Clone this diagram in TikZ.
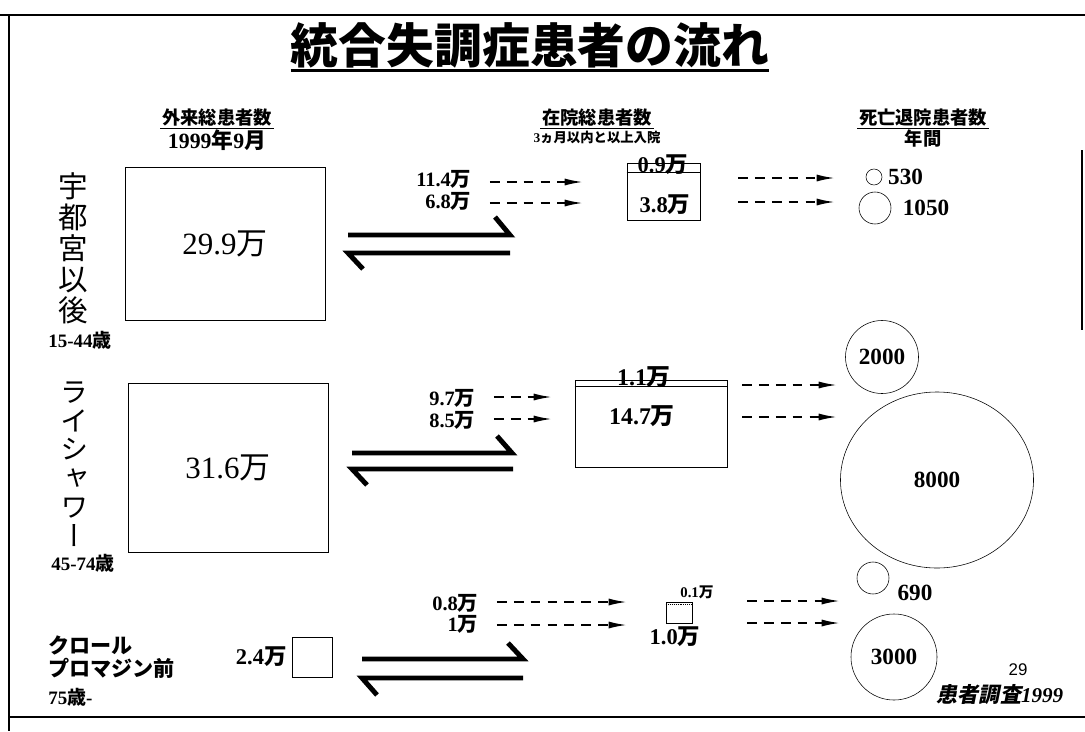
\documentclass[tikz,border=0pt]{standalone}
\usepackage{fontspec}
\setmainfont{Liberation Serif}
\newfontfamily\jp{Noto Sans CJK JP}
\newfontfamily\jpv[RawFeature=+vert]{Noto Sans CJK JP}
\newfontfamily\jpit[FakeSlant=0.2]{Noto Sans CJK JP}
\newfontfamily\pagenum{Liberation Sans}
\usetikzlibrary{shapes.geometric,arrows.meta,positioning}
\newcommand{\tenk}{{\jp 万}}

\tikzset{
	frame/.style={line width=1.5pt},
	hdr/.style={font=\jp\bfseries\fontsize{13}{14}\selectfont, inner sep=1pt},
	sub/.style={font=\bfseries\fontsize{15.5}{16}\selectfont, inner sep=1pt},
	uline/.style={line width=1.3pt},
	vlabel/.style={font=\jp\fontsize{21}{22}\selectfont, align=center, inner sep=0pt},
	age/.style={font=\bfseries\fontsize{13.5}{14}\selectfont, inner sep=1pt},
	outbox/.style={draw, thin, inner sep=0pt, font=\fontsize{22}{24}\selectfont},
	inbox/.style={draw, thin, inner sep=0pt},
	num/.style={font=\bfseries\fontsize{14.5}{15}\selectfont, inner sep=1pt},
	flow/.style={line width=1.3pt, dash pattern=on 7pt off 5pt, -{Latex[length=13pt,width=5pt]}},
	eq/.style={line width=3.5pt, line join=miter},
	pop/.style={draw, thin, inner sep=0pt, font=\bfseries\fontsize{16.5}{17}\selectfont},
	popnum/.style={font=\bfseries\fontsize{16.5}{17}\selectfont, inner sep=0pt},
}

\begin{document}
\begin{tikzpicture}[x=0.025cm, y=-0.025cm]
	\useasboundingbox (0,0) rectangle (1085,731);

%marco
	\draw[frame] (0,15) -- (1085,15);
	\draw[frame] (9,15) -- (9,731);
	\draw[frame] (9,717) -- (1085,717);
	\draw[frame] (1082,150) -- (1082,330);

%titulo
	\node[font=\jp\bfseries\fontsize{34}{36}\selectfont, inner sep=0pt] (title) at (530,45) {統合失調症患者の流れ};
	\draw[line width=2pt] ([yshift=-2pt]title.south west) -- ([yshift=-2pt]title.south east);

%columnas
	\node[hdr] (hdr-out) at (217,118) {外来総患者数};
	\draw[uline] (hdr-out.south west) -- (hdr-out.south east);
	\node[sub, below=0pt of hdr-out] (sub-out) {1999{\jp 年}9{\jp 月}};
	\node[hdr] (hdr-in) at (597,118) {在院総患者数};
	\draw[uline] (hdr-in.south west) -- (hdr-in.south east);
	\node[sub, font=\jp\bfseries\fontsize{9.5}{10}\selectfont, below=1pt of hdr-in] (sub-in) {{\rmfamily 3}ヵ月以内と以上入院};
	\node[hdr] (hdr-exit) at (923,118) {死亡退院患者数};
	\draw[uline] (hdr-exit.south west) -- (hdr-exit.south east);
	\node[sub, font=\jp\bfseries\fontsize{13}{14}\selectfont, below=0pt of hdr-exit] (sub-exit) {年間};

%宇都宮以後
	\node[vlabel] (u-name) at (73,248) {宇\\都\\宮\\以\\後};
	\node[age] (u-age) at (80,340) {15-44{\jp 歳}};
	\node[outbox, minimum width=5cm, minimum height=3.825cm] (u-out) at (225,243.5) {29.9\tenk};
	%
	\coordinate (u-eqa) at (348,235); \coordinate (u-eqb) at (510,235);
	\draw[eq] (u-eqa) -- (u-eqb) -- ++(-15,-18);
	\coordinate (u-eqc) at (510,253); \coordinate (u-eqd) at (348,253);
	\draw[eq] (u-eqc) -- (u-eqd) -- ++(15,16);
	%
	\node[num, anchor=east] (u-in1) at (473,179) {11.4\tenk};
	\node[num, anchor=east] (u-in2) at (473,201) {6.8\tenk};
	\coordinate (u-in1-tip) at (583,182); \coordinate (u-in2-tip) at (583,203);
	\draw[flow, shorten <=12pt] (u-in1.east |- u-in1-tip) -- (u-in1-tip);
	\draw[flow, shorten <=12pt] (u-in2.east |- u-in2-tip) -- (u-in2-tip);
	%
	\node[inbox, minimum width=1.825cm, minimum height=1.425cm] (u-mid) at (663.5,191.5) {};
	\draw[thin] ([yshift=-7pt]u-mid.north west) -- ([yshift=-7pt]u-mid.north east);
	\node[num, font=\bfseries\fontsize{16}{17}\selectfont] (u-mid-top) at (663,165) {0.9\tenk};
	\node[num, font=\bfseries\fontsize{16}{17}\selectfont] (u-mid-low) at (665,205) {3.8\tenk};
	%
	\coordinate (u-out1-tail) at (738,178); \coordinate (u-out1-tip) at (835,178);
	\coordinate (u-out2-tail) at (738,202); \coordinate (u-out2-tip) at (835,202);
	\draw[flow] (u-out1-tail) -- (u-out1-tip);
	\draw[flow] (u-out2-tail) -- (u-out2-tip);
	\node[pop, circle, minimum size=0.4cm] (u-d1) at (874,177) {};
	\node[popnum, right=4pt of u-d1] (u-d1-num) {530};
	\node[pop, circle, minimum size=0.8cm] (u-d2) at (875,208) {};
	\node[popnum, right=8pt of u-d2] (u-d2-num) {1050};

%ライシャワー
	\node[vlabel, font=\jpv\fontsize{20}{20.5}\selectfont] (r-name) at (75,464) {ラ\\イ\\シ\\ャ\\ワ\\ー};
	\node[age] (r-age) at (83,563) {45-74{\jp 歳}};
	\node[outbox, minimum width=5cm, minimum height=4.225cm] (r-out) at (228,467.5) {31.6\tenk};
	%
	\coordinate (r-eqa) at (352,453); \coordinate (r-eqb) at (512,453);
	\draw[eq] (r-eqa) -- (r-eqb) -- ++(-15,-17);
	\coordinate (r-eqc) at (513,469); \coordinate (r-eqd) at (352,469);
	\draw[eq] (r-eqc) -- (r-eqd) -- ++(15,16);
	%
	\node[num, anchor=east] (r-in1) at (477,398) {9.7\tenk};
	\node[num, anchor=east] (r-in2) at (477,420) {8.5\tenk};
	\coordinate (r-in1-tip) at (552,397); \coordinate (r-in2-tip) at (552,419);
	\draw[flow, shorten <=12pt] (r-in1.east |- r-in1-tip) -- (r-in1-tip);
	\draw[flow, shorten <=12pt] (r-in2.east |- r-in2-tip) -- (r-in2-tip);
	%
	\node[inbox, minimum width=3.8cm, minimum height=2.175cm] (r-mid) at (651,423.5) {};
	\draw[thin] ([yshift=-5pt]r-mid.north west) -- ([yshift=-5pt]r-mid.north east);
	\node[num, font=\bfseries\fontsize{17}{18}\selectfont] (r-mid-top) at (644,377) {1.1\tenk};
	\node[num, font=\bfseries\fontsize{17}{18}\selectfont] (r-mid-low) at (642,416) {14.7\tenk};
	%
	\coordinate (r-out1-tail) at (742,385); \coordinate (r-out1-tip) at (837,385);
	\coordinate (r-out2-tail) at (742,417); \coordinate (r-out2-tip) at (837,417);
	\draw[flow] (r-out1-tail) -- (r-out1-tip);
	\draw[flow] (r-out2-tail) -- (r-out2-tip);
	\node[pop, circle, minimum size=1.825cm] (r-d1) at (882,357) {2000};
	\node[pop, ellipse, minimum width=4.825cm, minimum height=4.4cm] (r-d2) at (937,480) {8000};

%クロールプロマジン前
	\node[font=\jp\bfseries\fontsize{15}{16}\selectfont, anchor=west, inner sep=0pt] (k-name1) at (48,645) {クロール};
	\node[font=\jp\bfseries\fontsize{15}{16}\selectfont, anchor=west, inner sep=0pt] (k-name2) at (48,668) {プロマジン前};
	\node[age, anchor=west, inner sep=0pt] (k-age) at (48,697) {75{\jp 歳}-};
	\node[outbox, minimum width=1cm, minimum height=1cm] (k-out) at (312,657) {};
	\node[num, font=\bfseries\fontsize{16}{17}\selectfont, left=2.5pt of k-out] (k-outnum) {2.4\tenk};
	%
	\coordinate (k-eqa) at (362,659); \coordinate (k-eqb) at (523,659);
	\draw[eq] (k-eqa) -- (k-eqb) -- ++(-15,-16);
	\coordinate (k-eqc) at (523,678); \coordinate (k-eqd) at (362,678);
	\draw[eq] (k-eqc) -- (k-eqd) -- ++(15,17);
	%
	\node[num, anchor=east] (k-in1) at (480,603) {0.8\tenk};
	\node[num, anchor=east] (k-in2) at (480,624) {1\tenk};
	\coordinate (k-in1-tip) at (627,602); \coordinate (k-in2-tip) at (627,625);
	\draw[flow, shorten <=12pt] (k-in1.east |- k-in1-tip) -- (k-in1-tip);
	\draw[flow, shorten <=12pt] (k-in2.east |- k-in2-tip) -- (k-in2-tip);
	%
	\node[inbox, minimum width=0.65cm, minimum height=0.525cm] (k-mid) at (679,612.5) {};
	\draw[thin, densely dotted] ([yshift=-2pt]k-mid.north west) -- ([yshift=-2pt]k-mid.north east);
	\node[num, font=\bfseries\fontsize{10.5}{11}\selectfont] (k-mid-top) at (697,592) {0.1\tenk};
	\node[num, font=\bfseries\fontsize{16}{17}\selectfont] (k-mid-low) at (675,637) {1.0\tenk};
	%
	\coordinate (k-out1-tail) at (747,601); \coordinate (k-out1-tip) at (840,601);
	\coordinate (k-out2-tail) at (747,623); \coordinate (k-out2-tip) at (840,623);
	\draw[flow] (k-out1-tail) -- (k-out1-tip);
	\draw[flow] (k-out2-tail) -- (k-out2-tip);
	\node[pop, circle, minimum size=0.8cm] (k-d1) at (873,578) {};
	\node[popnum] (k-d1-num) at (915,593) {690};
	\node[pop, circle, minimum size=2.15cm] (k-d2) at (894,657) {3000};

%pie
	\node[font=\pagenum\fontsize{12}{12}\selectfont, inner sep=0pt] (pageno) at (1018,670) {29};
	\node[font=\bfseries\itshape\fontsize{15}{16}\selectfont, inner sep=0pt] (source) at (1000,695) {{\jpit 患者調査}1999};
\end{tikzpicture}
\end{document}
